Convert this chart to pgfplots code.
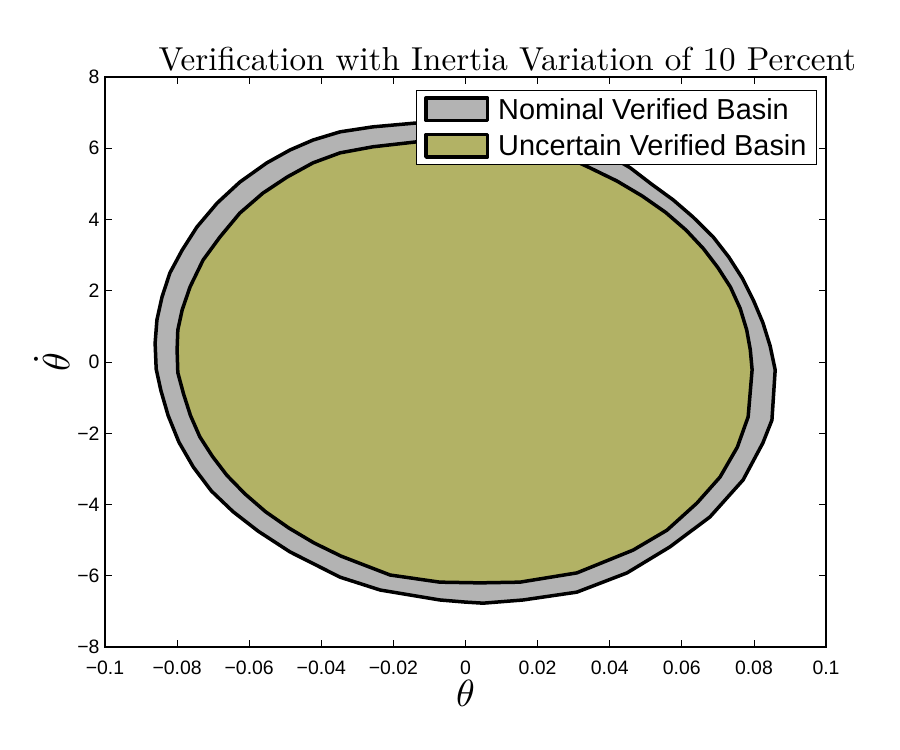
\documentclass[border=0pt]{standalone}
\usepackage{fontspec}
\usepackage{graphicx}
\usepackage{pgfplots}
\pgfplotsset{compat=1.18}
\newfontfamily\helv{Liberation Sans}
\definecolor{nomgray}{RGB}{179,179,179}
\definecolor{uncolive}{RGB}{178,178,101}

\begin{document}
\begin{tikzpicture}[x=1bp,y=1bp]
\path[use as bounding box] (0,0) rectangle (900,750);
\begin{axis}[
  at={(105bp,103bp)}, anchor=south west,
  scale only axis, width=721bp, height=570bp,
  xmin=-0.1, xmax=0.1, ymin=-8, ymax=8,
  xtick={-0.1,-0.08,-0.06,-0.04,-0.02,0,0.02,0.04,0.06,0.08,0.1},
  xticklabels={−0.1,−0.08,−0.06,−0.04,−0.02,0,0.02,0.04,0.06,0.08,0.1},
  ytick={-8,-6,-4,-2,0,2,4,6,8},
  yticklabels={−8,−6,−4,−2,0,2,4,6,8},
  scaled x ticks=false,
  tick align=inside, major tick length=7bp,
  tick style={black, line width=0.8bp},
  axis line style={line width=1.2bp},
  ticklabel style={font=\helv\fontsize{19.5}{22}\selectfont},
  xticklabel style={yshift=-10bp},
  yticklabel style={xshift=-2bp},
  /pgf/number format/assume math mode=true,
  xlabel={\scalebox{3.8}{$\theta$}},
  every axis x label/.style={at={(axis description cs:0.5,-0.105)}, anchor=base},
  ylabel={\scalebox{3.8}{$\dot{\theta}$}},
  every axis y label/.style={at={(axis description cs:-0.074,0.5)}, anchor=center, rotate=90},
  title={\scalebox{3.33}{Verification with Inertia Variation of 10 Percent}},
  every axis title/.style={at={(axis description cs:0.558,1.012)}, anchor=base},
  legend cell align=left,
  legend style={at={(0.9875,0.977)}, anchor=north east, draw=black, line width=1bp,
    font=\helv\fontsize{29}{34}\selectfont, inner xsep=8bp, inner ysep=5.5bp,
    nodes={inner xsep=2bp, inner ysep=2bp},
    row sep=10bp, /tikz/every odd column/.append style={column sep=7bp}},
  legend image code/.code={\draw[#1, line width=3.5bp] (0bp,-11.25bp) rectangle (61.5bp,11.25bp);},
]
% nominal verified basin
\addplot[fill=nomgray, draw=black, line width=3.5bp, line join=round] coordinates {
(-0.0043,6.74) (-0.0135,6.71) (-0.0257,6.60) (-0.0348,6.46) (-0.0423,6.23) (-0.0487,5.95)
(-0.0551,5.59) (-0.0626,5.05) (-0.0689,4.46) (-0.0745,3.79) (-0.0786,3.14) (-0.0820,2.50)
(-0.0842,1.82) (-0.0856,1.18) (-0.0861,0.53) (-0.0858,-0.20) (-0.0845,-0.80) (-0.0825,-1.50)
(-0.0795,-2.25) (-0.0755,-2.95) (-0.0705,-3.62) (-0.0645,-4.20) (-0.0575,-4.75) (-0.0487,-5.33)
(-0.0348,-6.04) (-0.0237,-6.40) (-0.0071,-6.68) (0.0000,-6.74) (0.0049,-6.77) (0.0160,-6.68)
(0.0309,-6.46) (0.0448,-5.92) (0.0567,-5.19) (0.0678,-4.35) (0.0770,-3.31) (0.0825,-2.27)
(0.0850,-1.63) (0.0859,-0.22) (0.0845,0.45) (0.0825,1.10) (0.0800,1.70) (0.0768,2.35)
(0.0730,2.95) (0.0687,3.51) (0.0631,4.07) (0.0576,4.55) (0.0515,5.00) (0.0457,5.45)
(0.0373,5.95) (0.0276,6.40) (0.0179,6.62) (0.0068,6.74)
} -- cycle;
\addlegendentry{Nominal Verified Basin}
% uncertain verified basin
\addplot[fill=uncolive, draw=black, line width=3.5bp, line join=round] coordinates {
(-0.0043,6.23) (-0.0135,6.18) (-0.0257,6.04) (-0.0348,5.87) (-0.0423,5.59) (-0.0495,5.19)
(-0.0562,4.74) (-0.0626,4.18) (-0.0681,3.51) (-0.0728,2.86) (-0.0764,2.11) (-0.0786,1.46)
(-0.0798,0.90) (-0.0800,0.34) (-0.0798,-0.30) (-0.0782,-0.90) (-0.0763,-1.50) (-0.0737,-2.10)
(-0.0702,-2.65) (-0.0662,-3.18) (-0.0612,-3.70) (-0.0555,-4.20) (-0.0490,-4.66) (-0.0420,-5.08)
(-0.0345,-5.45) (-0.0209,-5.98) (-0.0071,-6.18) (0.0040,-6.20) (0.0151,-6.18) (0.0309,-5.92)
(0.0465,-5.28) (0.0559,-4.72) (0.0642,-3.96) (0.0706,-3.23) (0.0754,-2.39) (0.0784,-1.54)
(0.0795,-0.22) (0.0790,0.34) (0.0780,0.90) (0.0762,1.50) (0.0735,2.10) (0.0700,2.65)
(0.0660,3.18) (0.0612,3.70) (0.0555,4.20) (0.0490,4.66) (0.0420,5.08) (0.0345,5.45)
(0.0262,5.84) (0.0165,6.12) (0.0068,6.23)
} -- cycle;
\addlegendentry{Uncertain Verified Basin}
\end{axis}
\end{tikzpicture}
\end{document}
